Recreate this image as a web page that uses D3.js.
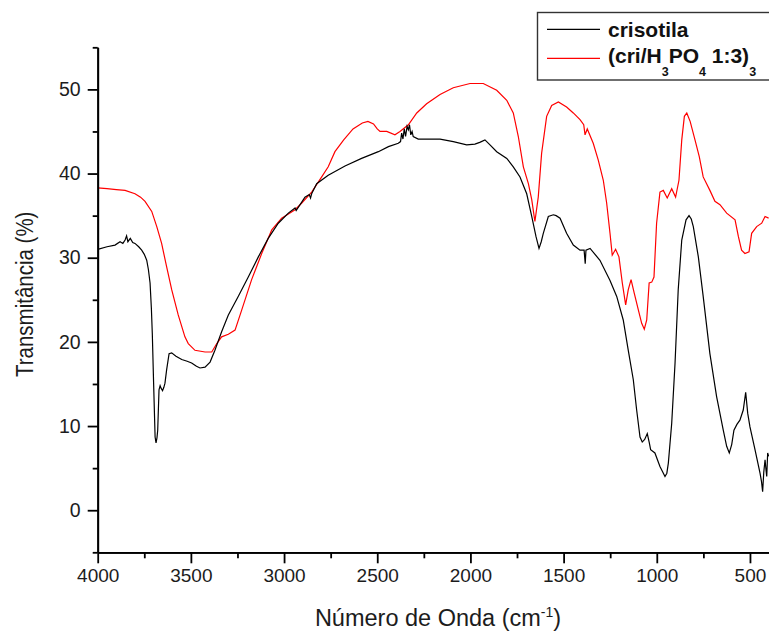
<!DOCTYPE html>
<html>
<head>
<meta charset="utf-8">
<script src="https://cdn.jsdelivr.net/npm/d3@7"></script>
<style>
  body { margin: 0; background: #fff; }
  text { font-family: 'Liberation Sans', Arial, sans-serif; }
</style>
</head>
<body>
<div id="chart"></div>
<script>
// FTIR spectra: [wavenumber, transmittance]
var crisotila = [
  [4000, 31.0], [3950, 31.3], [3907, 31.5], [3880, 31.9], [3865, 31.7], [3853, 32.1],
  [3845, 32.6], [3838, 31.9], [3825, 32.3], [3812, 31.8], [3800, 31.7], [3780, 31.3],
  [3764, 30.9], [3750, 30.4], [3737, 29.7], [3728, 28.6], [3719, 27.0], [3712, 24.0],
  [3707, 21.0], [3700, 15.1], [3692, 8.7], [3687, 8.0], [3682, 8.6], [3678, 9.5],
  [3671, 14.3], [3665, 14.8], [3660, 14.5], [3652, 14.2], [3645, 14.6], [3639, 15.1],
  [3630, 16.7], [3617, 18.6], [3603, 18.7], [3580, 18.3], [3549, 17.9], [3520, 17.7],
  [3496, 17.5], [3470, 17.1], [3451, 16.9], [3424, 17.0], [3397, 17.6], [3371, 19.0],
  [3335, 21.2], [3299, 23.2], [3246, 25.4], [3192, 27.7], [3138, 30.1], [3085, 32.3],
  [3031, 34.1], [2977, 35.3], [2941, 35.9], [2935, 35.6], [2914, 36.3], [2888, 37.2],
  [2865, 37.5], [2858, 37.1], [2852, 37.6], [2825, 38.8], [2763, 39.8], [2673, 40.9],
  [2584, 41.8], [2494, 42.6], [2440, 43.2], [2387, 43.6], [2375, 43.8], [2369, 44.8],
  [2362, 44.1], [2355, 45.3], [2348, 44.4], [2340, 45.6], [2333, 45.2], [2327, 45.8],
  [2320, 44.6], [2313, 45.0], [2307, 44.4], [2280, 44.1], [2163, 44.1], [2092, 43.8],
  [2020, 43.4], [1976, 43.5], [1950, 43.7], [1922, 44.0], [1895, 43.4], [1859, 42.6],
  [1805, 41.8], [1770, 40.8], [1734, 39.6], [1698, 37.6], [1671, 34.9], [1648, 32.5],
  [1632, 31.1], [1620, 31.9], [1609, 32.9], [1582, 34.9], [1555, 35.1], [1540, 35.0],
  [1519, 34.7], [1484, 32.9], [1448, 31.5], [1412, 30.9], [1390, 30.9], [1384, 29.3],
  [1380, 30.9], [1358, 31.1], [1305, 29.7], [1251, 27.3], [1215, 25.4], [1180, 22.6],
  [1153, 19.0], [1126, 15.5], [1108, 11.9], [1090, 8.7], [1078, 8.1], [1065, 8.4],
  [1051, 9.1], [1040, 8.0], [1033, 7.2], [1010, 6.8], [983, 5.2], [956, 4.0],
  [946, 4.4], [938, 5.6], [920, 10.3], [902, 17.5], [885, 26.2], [866, 32.1],
  [843, 34.5], [827, 35.0], [815, 34.6], [804, 33.7], [777, 30.1], [751, 25.4],
  [715, 18.6], [679, 13.5], [643, 9.5], [625, 7.6], [611, 6.8], [598, 7.8],
  [586, 9.5], [570, 10.2], [554, 10.7], [536, 11.9], [523, 14.0], [512, 11.5],
  [500, 9.9], [473, 7.2], [446, 4.4], [438, 3.4], [432, 2.2], [426, 4.5],
  [419, 6.0], [414, 4.8], [410, 4.0], [405, 6.8], [400, 6.4]
];

var criH3PO4 = [
  [4000, 38.3], [3950, 38.2], [3900, 38.1], [3853, 38.0], [3800, 37.6], [3770, 37.2],
  [3746, 36.7], [3710, 35.5], [3683, 33.7], [3657, 31.7], [3630, 28.9], [3603, 26.2],
  [3568, 23.2], [3532, 20.6], [3514, 19.8], [3478, 19.0], [3424, 18.8], [3388, 18.8],
  [3361, 19.8], [3335, 20.6], [3299, 20.9], [3263, 21.4], [3227, 23.8], [3174, 27.4],
  [3120, 30.5], [3066, 33.3], [3013, 34.7], [2941, 35.7], [2905, 36.5], [2852, 37.8],
  [2798, 39.6], [2763, 40.8], [2727, 42.6], [2680, 44.0], [2630, 45.3], [2580, 46.0],
  [2550, 46.2], [2520, 45.9], [2500, 45.3], [2485, 45.0], [2449, 45.0], [2405, 44.6],
  [2378, 45.0], [2333, 45.8], [2288, 47.2], [2235, 48.3], [2163, 49.4], [2092, 50.2],
  [2002, 50.7], [1931, 50.7], [1859, 49.9], [1805, 48.7], [1770, 47.2], [1743, 44.4],
  [1716, 40.8], [1689, 38.8], [1671, 36.9], [1654, 34.3], [1636, 37.2], [1618, 42.4],
  [1591, 46.8], [1564, 48.1], [1528, 48.5], [1484, 47.9], [1448, 47.2], [1412, 46.4],
  [1392, 45.8], [1385, 44.6], [1373, 45.3], [1341, 43.6], [1314, 41.6], [1287, 39.2],
  [1269, 36.5], [1251, 32.9], [1239, 30.3], [1221, 31.0], [1203, 30.1], [1185, 27.0],
  [1167, 24.4], [1153, 26.2], [1138, 27.4], [1121, 25.8], [1099, 23.8], [1081, 22.2],
  [1067, 21.5], [1054, 22.6], [1041, 27.0], [1027, 27.1], [1015, 27.7], [1001, 34.1],
  [983, 37.8], [965, 38.0], [944, 37.1], [920, 38.2], [899, 37.2], [881, 39.2],
  [866, 44.0], [852, 46.8], [839, 47.2], [821, 46.2], [795, 44.0], [772, 42.0],
  [751, 39.6], [715, 38.0], [688, 36.7], [661, 36.3], [625, 35.3], [580, 34.5],
  [562, 32.5], [545, 30.9], [527, 30.5], [505, 30.7], [491, 32.9], [464, 33.7],
  [437, 34.1], [419, 34.9], [400, 34.7]
];

var xMajorTicks = [4000, 3500, 3000, 2500, 2000, 1500, 1000, 500];
var xMinorTicks = [3750, 3250, 2750, 2250, 1750, 1250, 750];
var yMajorTicks = [0, 10, 20, 30, 40, 50];
var yMinorTicks = [-5, 5, 15, 25, 35, 45, 55];

var svgWidth = 769;
var svgHeight = 632;

var plot = { left: 97.7, right: 768.6, top: 47.3, bottom: 552.3 };

var svg = d3.select('#chart')
  .append('svg')
  .attr('width', svgWidth)
  .attr('height', svgHeight);

var xScale = d3.scaleLinear()
  .domain([4000, 400])
  .range([plot.left, plot.right]);

var yScale = d3.scaleLinear()
  .domain([-5, 55])
  .range([plot.bottom, plot.top]);

svg.append('clipPath')
  .attr('id', 'plotClip')
  .append('rect')
  .attr('x', plot.left)
  .attr('y', plot.top)
  .attr('width', svgWidth - plot.left)
  .attr('height', plot.bottom - plot.top);

// spectra
var line = d3.line()
  .x(d => xScale(d[0]))
  .y(d => yScale(d[1]));

svg.append('path')
  .datum(criH3PO4)
  .attr('clip-path', 'url(#plotClip)')
  .attr('fill', 'none')
  .attr('stroke', '#ff0000')
  .attr('stroke-width', 1.2)
  .attr('d', line);

svg.append('path')
  .datum(crisotila)
  .attr('clip-path', 'url(#plotClip)')
  .attr('fill', 'none')
  .attr('stroke', '#000')
  .attr('stroke-width', 1.2)
  .attr('d', line);

// x axis (major ticks with labels, minor ticks without)
var xAxis = svg.append('g')
  .attr('transform', `translate(0, ${plot.bottom})`)
  .call(d3.axisBottom(xScale)
    .tickValues(xMajorTicks)
    .tickFormat(d3.format('d'))
    .tickSize(11)
    .tickPadding(5)
    .tickSizeOuter(0));

svg.append('g')
  .attr('transform', `translate(0, ${plot.bottom})`)
  .call(d3.axisBottom(xScale).tickValues(xMinorTicks).tickSize(6).tickFormat('').tickSizeOuter(0));

// y axis
var yAxis = svg.append('g')
  .attr('transform', `translate(${plot.left}, 0)`)
  .call(d3.axisLeft(yScale)
    .tickValues(yMajorTicks)
    .tickFormat(d3.format('d'))
    .tickSize(10)
    .tickPadding(7)
    .tickSizeOuter(0));

svg.append('g')
  .attr('transform', `translate(${plot.left}, 0)`)
  .call(d3.axisLeft(yScale).tickValues(yMinorTicks).tickSize(5).tickFormat('').tickSizeOuter(0));

svg.selectAll('.domain')
  .attr('stroke', '#000')
  .attr('stroke-width', 1.8);

svg.selectAll('.tick line')
  .attr('stroke', '#000')
  .attr('stroke-width', 1.8);

xAxis.selectAll('text')
  .attr('font-size', '19px')
  .attr('fill', '#1c1c1c')
  .attr('font-family', "'Liberation Sans', Arial, sans-serif");

yAxis.selectAll('text')
  .attr('font-size', '19.5px')
  .attr('fill', '#1c1c1c')
  .attr('font-family', "'Liberation Sans', Arial, sans-serif");

// axis titles
var xTitle = svg.append('text')
  .attr('x', 438)
  .attr('y', 626)
  .attr('text-anchor', 'middle')
  .attr('font-size', '23.5px')
  .attr('fill', '#1c1c1c');

xTitle.append('tspan').text('Número de Onda (cm');
xTitle.append('tspan').attr('font-size', '14px').attr('dy', -9).text('-1');
xTitle.append('tspan').attr('dy', 9).text(')');

// the glyphs of the y title are a bit wider than the font size gives
svg.append('text')
  .attr('transform', 'translate(33, 377) rotate(-90) scale(1, 1.2)')
  .attr('text-anchor', 'start')
  .attr('font-size', '20.5px')
  .attr('fill', '#1c1c1c')
  .text('Transmitância (%)');

// legend
var legend = svg.append('g');

legend.append('rect')
  .attr('x', 537.5)
  .attr('y', 12.5)
  .attr('width', 260)
  .attr('height', 67.5)
  .attr('fill', '#fff')
  .attr('stroke', '#333')
  .attr('stroke-width', 1.4);

legend.append('line')
  .attr('x1', 547).attr('x2', 600)
  .attr('y1', 29.3).attr('y2', 29.3)
  .attr('stroke', '#000')
  .attr('stroke-width', 1.2);

legend.append('line')
  .attr('x1', 547).attr('x2', 600)
  .attr('y1', 58.3).attr('y2', 58.3)
  .attr('stroke', '#ff0000')
  .attr('stroke-width', 1.2);

legend.append('text')
  .attr('x', 608)
  .attr('y', 36.7)
  .attr('font-size', '21px')
  .attr('font-weight', 'bold')
  .attr('fill', '#111')
  .text('crisotila');

var label2 = legend.append('text')
  .attr('x', 608)
  .attr('y', 63)
  .attr('font-size', '21px')
  .attr('font-weight', 'bold')
  .attr('fill', '#111');

label2.append('tspan').text('(cri/H');
label2.append('tspan').attr('font-size', '12.5px').attr('dy', 13).text('3');
label2.append('tspan').attr('dy', -13).text('PO');
label2.append('tspan').attr('font-size', '12.5px').attr('dy', 13).text('4');
label2.append('tspan').attr('dy', -13).text(' 1:3)');
label2.append('tspan').attr('font-size', '12.5px').attr('dy', 13).text('3');
</script>
</body>
</html>
